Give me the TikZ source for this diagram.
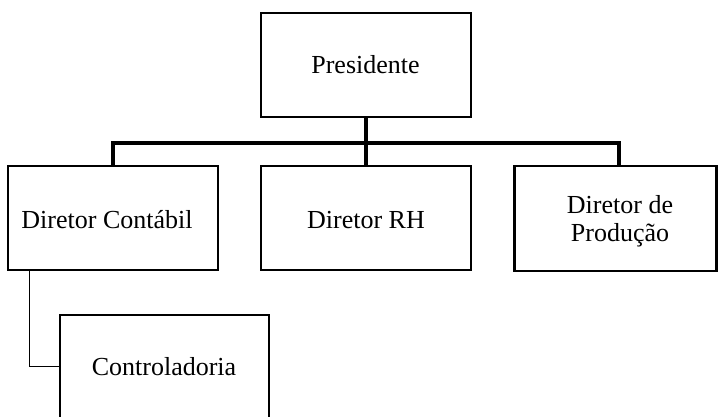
\documentclass[tikz,border=0pt]{standalone}
\usepackage{fontspec}
\setmainfont{Liberation Serif}
\begin{document}
\begin{tikzpicture}[x=1pt,y=-1pt,
  box/.style={draw=black, line width=2.5pt, inner sep=0pt, fill=white},
  lbl/.style={font=\fontsize{26}{28}\selectfont, align=center, inner sep=0pt},
  thickconn/.style={line width=4pt},
  thinconn/.style={line width=1pt}]
\useasboundingbox (0,0) rectangle (718,417);
\coordinate (pb) at (366,117);
\coordinate (hl) at (113,143.5);
\coordinate (hr) at (619,143.5);
\coordinate (hm) at (366,143.5);
\node[box, minimum width=210pt, minimum height=104pt] (pres) at (366,65) {};
\node[box, minimum width=210pt, minimum height=104pt] (cont) at (113,218) {};
\node[box, minimum width=210pt, minimum height=104pt] (rh) at (366,218) {};
\node[box, minimum width=202pt, minimum height=105pt] (prod) at (615.5,218.5) {};
\node[box, minimum width=209pt, minimum height=130pt] (ctrl) at (164.5,380) {};
\draw[thickconn] (pres.south) -- (hm);
\draw[thickconn, line cap=rect] (hl) -- (hr);
\draw[thickconn] (hl) -- (hl |- cont.north);
\draw[thickconn] (hm) -- (rh.north);
\draw[thickconn] (hr) -- (hr |- prod.north);
\coordinate (cs) at (29,270);
\draw[thinconn] (cs) |- (ctrl.west |- 0,366.5) coordinate (ce);
\node[lbl] (tpres) at (365.5,65) {Presidente};
\node[lbl] (tcont) at (107,220) {Diretor Contábil};
\node[lbl] (trh) at (366,220) {Diretor RH};
\node[lbl] (tprod) at (620,221) {Diretor de\\Produção};
\node[lbl] (tctrl) at (164,367) {Controladoria};
\end{tikzpicture}
\end{document}
